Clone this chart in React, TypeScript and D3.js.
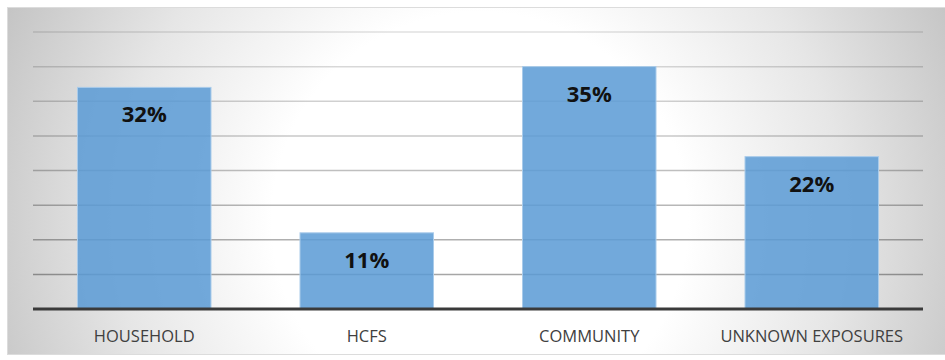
import React from "react";
import * as d3 from "d3";

const categories = ["HOUSEHOLD", "HCFS", "COMMUNITY", "UNKNOWN EXPOSURES"];
const values = [32, 11, 35, 22];
const gridTicks = [5, 10, 15, 20, 25, 30, 35, 40];

const W = 945;
const H = 360;
const plotLeft = 33;
const plotRight = 923;
const plotTop = 32;
const plotBottom = 309;

export default function App() {
  const x = d3
    .scaleBand<string>()
    .domain(categories)
    .range([plotLeft, plotRight])
    .paddingInner(0.4)
    .paddingOuter(0.2);
  const y = d3.scaleLinear().domain([0, 40]).range([plotBottom, plotTop]);
  const lineOpacity = d3.scaleLinear().domain([plotTop, plotBottom]).range([0.12, 0.38]);

  return (
    <svg
      width={W}
      height={H}
      style={{ position: "absolute", left: 0, top: 0, display: "block" }}
      fontFamily="'Open Sans', 'DejaVu Sans', sans-serif"
    >
      <defs>
        <radialGradient id="bg" gradientUnits="userSpaceOnUse" cx={480} cy={220} r={520}>
          <stop offset="0" stopColor="#ffffff" />
          <stop offset="0.4" stopColor="#ffffff" />
          <stop offset="0.7" stopColor="#e6e6e6" />
          <stop offset="1" stopColor="#c4c4c4" />
        </radialGradient>
      </defs>
      <rect x={0} y={0} width={W} height={H} fill="#ffffff" />
      <rect x={7.5} y={7.5} width={W - 7} height={347} fill="url(#bg)" stroke="#dcdcdc" strokeWidth={1} />
      {gridTicks.map((t) => (
        <line
          key={t}
          x1={plotLeft}
          x2={plotRight}
          y1={y(t)}
          y2={y(t)}
          stroke="#000000"
          strokeOpacity={lineOpacity(y(t))}
          strokeWidth={1.5}
        />
      ))}
      {categories.map((c, i) => (
        <g key={c}>
          <rect
            x={x(c)}
            y={y(values[i])}
            width={x.bandwidth()}
            height={plotBottom - y(values[i])}
            fill="#5b9bd5"
            fillOpacity={0.86}
            stroke="#a9cbea"
            strokeWidth={1}
          />
          <text
            x={(x(c) as number) + x.bandwidth() / 2}
            y={y(values[i]) + 35}
            textAnchor="middle"
            fontSize={22}
            fontWeight="bold"
            fill="#111111"
          >
            {values[i]}%
          </text>
          <text
            x={(x(c) as number) + x.bandwidth() / 2}
            y={342}
            textAnchor="middle"
            fontSize={16.5}
            fill="#404040"
          >
            {c}
          </text>
        </g>
      ))}
      <line x1={plotLeft} x2={plotRight} y1={plotBottom} y2={plotBottom} stroke="#3a3a3a" strokeWidth={3} />
    </svg>
  );
}
